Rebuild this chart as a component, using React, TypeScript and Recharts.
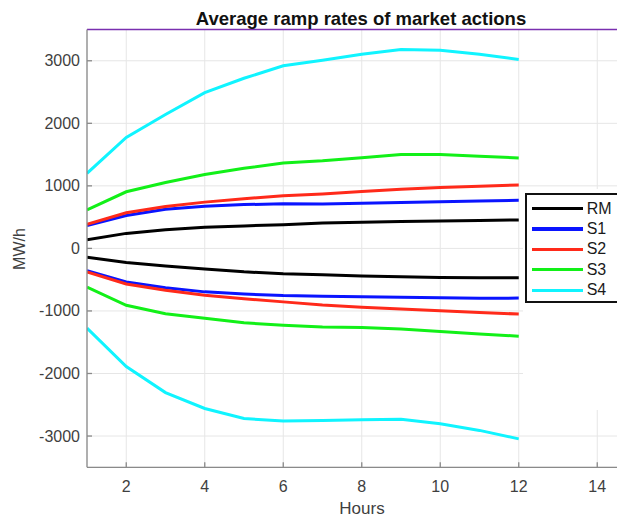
import React from "react";
import {
  LineChart,
  Line,
  XAxis,
  YAxis,
  CartesianGrid,
  ReferenceLine,
  Legend,
} from "recharts";

// Hours ahead and the average up / down ramp rates (MW/h) per market action
const hours = [1, 2, 3, 4, 5, 6, 7, 8, 9, 10, 11, 12];

const rmUp = [140, 240, 300, 340, 360, 380, 405, 420, 430, 440, 445, 455];
const rmDown = [-140, -225, -280, -330, -375, -405, -420, -440, -455, -465, -468, -470];

const s1Up = [365, 525, 625, 675, 700, 715, 710, 720, 735, 745, 758, 768];
const s1Down = [-355, -535, -630, -695, -730, -755, -765, -775, -782, -790, -798, -795];

const s2Up = [385, 570, 670, 740, 795, 840, 870, 910, 945, 975, 995, 1015];
const s2Down = [-375, -568, -670, -750, -805, -855, -905, -940, -970, -997, -1024, -1050];

const s3Up = [615, 905, 1055, 1180, 1280, 1365, 1400, 1450, 1500, 1500, 1475, 1445];
const s3Down = [-620, -910, -1045, -1115, -1190, -1228, -1255, -1265, -1287, -1330, -1367, -1405];

const s4Up = [1200, 1775, 2140, 2490, 2720, 2920, 3010, 3105, 3180, 3170, 3105, 3020];
const s4Down = [-1275, -1890, -2305, -2560, -2720, -2760, -2750, -2740, -2733, -2803, -2910, -3045];

const xTicks = [2, 4, 6, 8, 10, 12, 14];
const yTicks = [-3000, -2000, -1000, 0, 1000, 2000, 3000];

const data = hours.map((h, i) => ({
  hour: h,
  rmUp: rmUp[i],
  rmDown: rmDown[i],
  s1Up: s1Up[i],
  s1Down: s1Down[i],
  s2Up: s2Up[i],
  s2Down: s2Down[i],
  s3Up: s3Up[i],
  s3Down: s3Down[i],
  s4Up: s4Up[i],
  s4Down: s4Down[i],
}));

const series = [
  { name: "RM", up: "rmUp", down: "rmDown", color: "#000000" },
  { name: "S1", up: "s1Up", down: "s1Down", color: "#0a14ff" },
  { name: "S2", up: "s2Up", down: "s2Down", color: "#ff2a1a" },
  { name: "S3", up: "s3Up", down: "s3Down", color: "#12f018" },
  { name: "S4", up: "s4Up", down: "s4Down", color: "#10f4ff" },
];

const FONT = "'Liberation Sans', Arial, Helvetica, sans-serif";
const TICK_COLOR = "#3f3f3f";
const AXIS_COLOR = "#8a8a8a";

// Inward tick marks with the label outside the axis
const YTick = (props: any) => {
  const { x, y, payload } = props;
  return (
    <g>
      <line x1={x} x2={x + 5} y1={y} y2={y} stroke={AXIS_COLOR} strokeWidth={1.3} />
      <text
        x={x - 7}
        y={y + 5.5}
        textAnchor="end"
        fontFamily={FONT}
        fontSize={16}
        fill={TICK_COLOR}
      >
        {payload.value}
      </text>
    </g>
  );
};

const XTick = (props: any) => {
  const { x, y, payload } = props;
  return (
    <g>
      <line x1={x} x2={x} y1={y} y2={y - 5} stroke={AXIS_COLOR} strokeWidth={1.3} />
      <text
        x={x}
        y={y + 25}
        textAnchor="middle"
        fontFamily={FONT}
        fontSize={16}
        fill={TICK_COLOR}
      >
        {payload.value}
      </text>
    </g>
  );
};

const LegendBox = (props: any) => {
  const items = (props.payload || []).filter((p: any) => p.type !== "none");
  return (
    <div
      style={{
        width: "100%",
        height: "100%",
        background: "#ffffff",
        position: "relative",
      }}
    >
      <div
        style={{
          position: "absolute",
          left: 2,
          top: 4,
          width: 130,
          height: 110,
          border: "2px solid #111",
          background: "#fff",
          boxSizing: "border-box",
          paddingTop: 3.5,
        }}
      >
        {items.map((p: any) => (
          <div
            key={p.value}
            style={{
              display: "flex",
              alignItems: "center",
              height: 20.4,
            }}
          >
            <span
              style={{
                display: "inline-block",
                marginLeft: 4.7,
                width: 51,
                height: 3.2,
                background: p.color,
              }}
            />
            <span
              style={{
                marginLeft: 4,
                fontFamily: FONT,
                fontSize: 16,
                color: "#1a1a1a",
                lineHeight: "16px",
              }}
            >
              {p.value}
            </span>
          </div>
        ))}
      </div>
    </div>
  );
}

export default function App() {
  return (
    <div
      style={{
        position: "relative",
        width: 617,
        height: 510,
        overflowX: "clip",
        overflowY: "visible",
        background: "#fff",
      }}
    >
      <LineChart
        width={660}
        height={510}
        data={data}
        margin={{ top: 21.5, right: 31.5, left: 0, bottom: 0 }}
      >
        <CartesianGrid stroke="#e6e6e6" strokeWidth={1} />
        <XAxis
          dataKey="hour"
          type="number"
          domain={[1, 15]}
          ticks={xTicks}
          height={50.7}
          tickSize={0}
          tickMargin={0}
          tickLine={false}
          tick={<XTick />}
          stroke={AXIS_COLOR}
          strokeWidth={1.3}
          allowDataOverflow
        />
        <YAxis
          type="number"
          domain={[-3500, 3500]}
          ticks={yTicks}
          width={79}
          tickSize={0}
          tickMargin={0}
          tickLine={false}
          tick={<YTick />}
          stroke={AXIS_COLOR}
          strokeWidth={1.3}
          allowDataOverflow
        />
        <ReferenceLine y={3500} stroke="#7a2fb0" strokeWidth={1.5} ifOverflow="visible" />
        {series.map((s) => (
          <Line
            key={s.up}
            type="linear"
            dataKey={s.up}
            name={s.name}
            stroke={s.color}
            strokeWidth={3}
            dot={false}
            activeDot={false}
            isAnimationActive={false}
          />
        ))}
        {series.map((s) => (
          <Line
            key={s.down}
            type="linear"
            dataKey={s.down}
            name={s.name + " down"}
            legendType="none"
            stroke={s.color}
            strokeWidth={3}
            dot={false}
            activeDot={false}
            isAnimationActive={false}
          />
        ))}
        <Legend
          layout="horizontal"
          verticalAlign="middle"
          align="center"
          content={<LegendBox />}
          wrapperStyle={{
            left: 515,
            top: 181,
            width: 102,
            height: 221,
            margin: 0,
            overflow: "hidden",
          }}
        />
      </LineChart>
      <div
        style={{
          position: "absolute",
          left: 153,
          width: 400,
          top: 0,
          textAlign: "center",
          fontFamily: FONT,
          fontWeight: "bold",
          fontSize: 18.5,
          lineHeight: "21px",
          color: "#111",
          whiteSpace: "nowrap",
        }}
      >
        Average ramp rates of market actions
      </div>
      <div
        style={{
          position: "absolute",
          left: -38,
          top: 231,
          width: 100,
          height: 20,
          lineHeight: "20px",
          textAlign: "center",
          fontFamily: FONT,
          fontSize: 16,
          color: TICK_COLOR,
          transform: "rotate(-90deg)",
        }}
      >
        MW/h
      </div>
      <div
        style={{
          position: "absolute",
          left: 254,
          width: 200,
          top: 492,
          textAlign: "center",
          fontFamily: FONT,
          fontSize: 17,
          lineHeight: "18px",
          color: TICK_COLOR,
        }}
      >
        Hours
      </div>
    </div>
  );
}
